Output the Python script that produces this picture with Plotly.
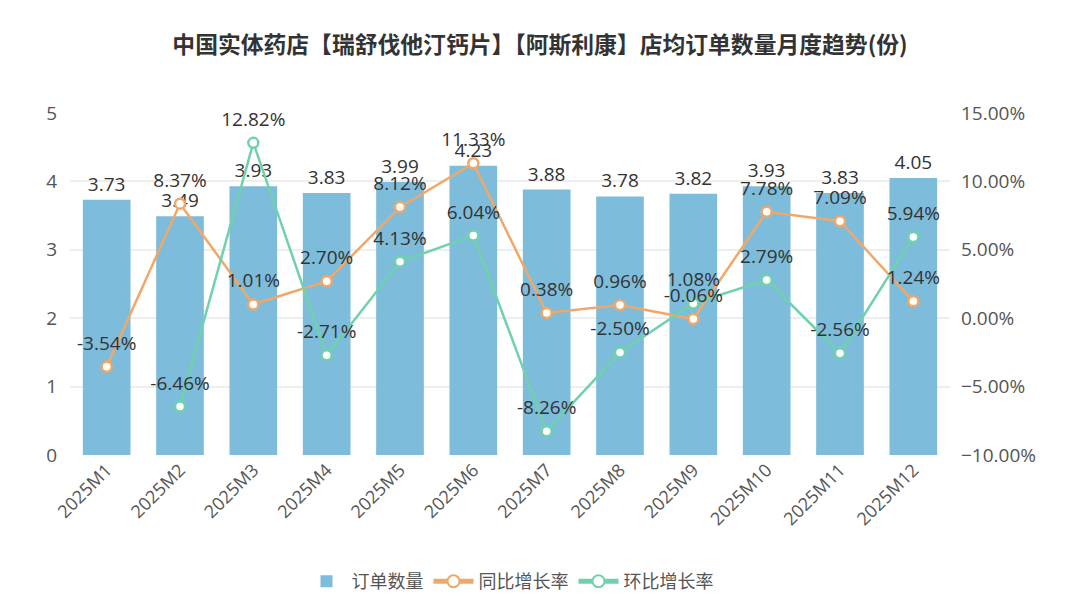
import plotly.graph_objects as go

months = ["2025M1", "2025M2", "2025M3", "2025M4", "2025M5", "2025M6",
          "2025M7", "2025M8", "2025M9", "2025M10", "2025M11", "2025M12"]
orders = [3.73, 3.49, 3.93, 3.83, 3.99, 4.23, 3.88, 3.78, 3.82, 3.93, 3.83, 4.05]
yoy = [-3.54, 8.37, 1.01, 2.70, 8.12, 11.33, 0.38, 0.96, -0.06, 7.78, 7.09, 1.24]
mom = [None, -6.46, 12.82, -2.71, 4.13, 6.04, -8.26, -2.50, 1.08, 2.79, -2.56, 5.94]

BAR = "#7dbcda"
ORANGE = "#f0a86a"
GREEN = "#6fd2ab"
FONT = "Open Sans, Noto Sans CJK SC, sans-serif"
LBL = 19

fig = go.Figure()
fig.add_trace(go.Bar(
    x=months, y=orders, name="订单数量", marker=dict(color=BAR, line=dict(width=0)),
    text=[f"{v:.2f}" for v in orders], textposition="outside", cliponaxis=False,
    textfont=dict(size=LBL, color="#333333"), yaxis="y",
))
for name, vals, col in [("同比增长率", yoy, ORANGE), ("环比增长率", mom, GREEN)]:
    fig.add_trace(go.Scatter(
        x=months, y=vals, name=name, mode="lines+markers",
        line=dict(color=col, width=2.5),
        marker=dict(size=10, color="white", line=dict(color=col, width=2.5)),
        yaxis="y2", cliponaxis=False,
    ))
for vals in [yoy, mom]:
    # label-only layer: larger invisible markers lift the labels a little above the points
    fig.add_trace(go.Scatter(
        x=months, y=vals, mode="markers+text", showlegend=False, hoverinfo="skip",
        marker=dict(size=18, opacity=0),
        text=[f"{v:.2f}%" if v is not None else "" for v in vals], textposition="top center",
        textfont=dict(size=LBL, color="#333333"), yaxis="y2", cliponaxis=False,
    ))

fig.update_layout(
    width=1080, height=596,
    paper_bgcolor="white", plot_bgcolor="white",
    font=dict(family=FONT, size=18, color="#555555"),
    title=dict(text="<b>中国实体药店【瑞舒伐他汀钙片】【阿斯利康】店均订单数量月度趋势(份)</b>",
               x=0.5, xanchor="center", y=0.925, yanchor="middle",
               font=dict(size=22.8, color="#333333", family="Noto Sans CJK SC, sans-serif")),
    margin=dict(l=70, r=130, t=113, b=141, autoexpand=False),
    bargap=0.35,
    showlegend=True,
    legend=dict(orientation="h", x=0.5, xanchor="center", y=-0.37, yanchor="middle",
                font=dict(size=18, color="#555555", family="Noto Sans CJK SC, sans-serif"),
                itemsizing="constant", itemwidth=40),
    xaxis=dict(range=[-0.5, 11.5], tickangle=-45, showgrid=False, showline=False, ticks="",
               tickfont=dict(size=18, color="#555555")),
    yaxis=dict(range=[0, 5], dtick=1, showgrid=True, gridcolor="#eeeeee", gridwidth=1.5,
               zeroline=False, showline=False, tickfont=dict(size=19, color="#555555"),
               ticklabelstandoff=12),
    yaxis2=dict(range=[-10, 15], dtick=5, overlaying="y", side="right", showgrid=False,
                zeroline=False, tickformat=".2f", ticksuffix="%",
                tickfont=dict(size=19, color="#555555"), ticklabelstandoff=10),
)

fig.write_html("out.html", config={"displayModeBar": False},
               post_script="document.body.style.margin='0px';")
